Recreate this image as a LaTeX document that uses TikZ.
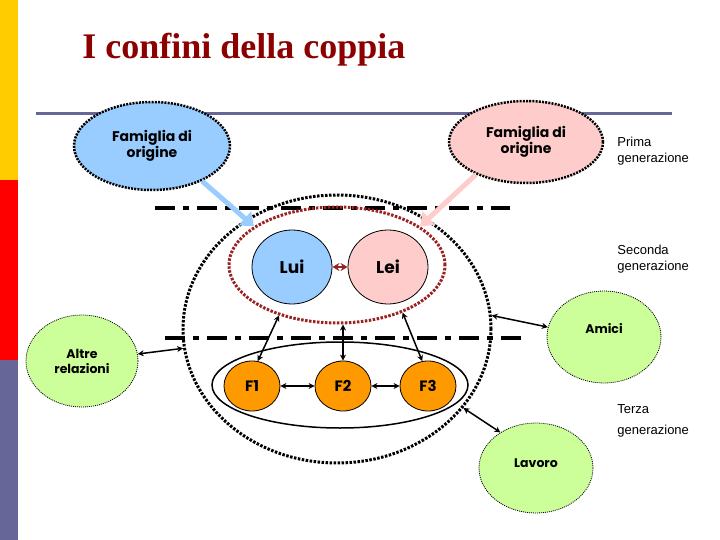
\documentclass[tikz,border=0pt]{standalone}
\usepackage{fontspec}
\setmainfont{Liberation Serif}
\newfontfamily\comicfont{Poppins}
\newfontfamily\genfont{Liberation Sans}
\usetikzlibrary{arrows.meta,shapes.geometric}
\definecolor{titlered}{RGB}{140,0,0}
\definecolor{barblue}{RGB}{102,102,153}
\definecolor{baryellow}{RGB}{255,204,0}
\definecolor{luiblue}{RGB}{153,204,255}
\definecolor{leipink}{RGB}{255,204,204}
\definecolor{couplered}{RGB}{153,34,34}
\definecolor{friendgreen}{RGB}{204,255,153}
\definecolor{kidorange}{RGB}{255,153,0}

\begin{document}
\begin{tikzpicture}[x=1pt,y=-1pt,line width=.8pt,
  famnode/.style={ellipse,draw,line width=2.5pt,dash pattern=on 2pt off 1.2pt,inner sep=0pt,align=center,font=\comicfont\bfseries\fontsize{14}{16}\selectfont},
  partner/.style={ellipse,draw,line width=.8pt,inner sep=0pt,minimum width=80pt,minimum height=74pt,font=\comicfont\bfseries\fontsize{17}{19}\selectfont},
  kid/.style={ellipse,draw,line width=.8pt,fill=kidorange,inner sep=0pt,minimum width=56pt,minimum height=50pt,font=\comicfont\bfseries\fontsize{15}{17}\selectfont},
  outside/.style={ellipse,draw,fill=friendgreen,line width=.8pt,dash pattern=on 1pt off 1pt,inner sep=0pt,align=center,font=\comicfont\bfseries\fontsize{12.5}{15}\selectfont},
  gen/.style={anchor=west,inner sep=0pt,align=left,font=\genfont\fontsize{13}{16}\selectfont},
  limit/.style={line width=4pt,dash pattern=on 20pt off 8pt on 6pt off 8pt},
  link/.style={line width=1.5pt,{Stealth[length=6pt,width=6pt]}-{Stealth[length=6pt,width=6pt]}},
  feed/.style={line width=5pt,-{Triangle[length=12pt,width=18pt]}}]
\path[use as bounding box] (0,0) rectangle (720,540);
% side bar
\fill[baryellow] (0,0) rectangle (18,180);
\fill[red] (0,180) rectangle (18,360);
\fill[barblue] (0,360) rectangle (18,540);
% title
\node[anchor=west,inner sep=0pt,text=titlered,font=\bfseries\fontsize{36}{40}\selectfont] (title) at (82,50) {I confini della coppia};
\draw[barblue,line width=3pt] (36,114) -- (672,114);
% generation limits
\draw[limit] (155,208) -- (510,208);
\draw[limit] (165,338) -- (522,338);
% boundaries
\node[ellipse,draw,line width=3pt,dash pattern=on 2.5pt off 1.5pt,inner sep=0pt,minimum width=308pt,minimum height=268pt] (bound) at (337,329) {};
\node[ellipse,draw,couplered,line width=3pt,dash pattern=on 2.5pt off 1.5pt,inner sep=0pt,minimum width=216pt,minimum height=116pt] (couple) at (337,265) {};
\node[ellipse,draw,line width=1.5pt,inner sep=0pt,minimum width=256pt,minimum height=86pt] (kids) at (340,385) {};
% families of origin
\node[famnode,fill=luiblue,minimum width=156pt,minimum height=88pt] (famL) at (152,146) {Famiglia di\\origine};
\node[famnode,fill=leipink,minimum width=154pt,minimum height=82pt] (famR) at (526,142) {Famiglia di\\origine};
% couple
\node[partner,fill=luiblue] (lui) at (292,267) {Lui};
\node[partner,fill=leipink] (lei) at (388,267) {Lei};
% children
\node[kid] (f1) at (252,386) {F1};
\node[kid] (f2) at (343,386) {F2};
\node[kid] (f3) at (428,386) {F3};
% other relations
\node[outside,minimum width=112pt,minimum height=92pt] (altre) at (82,361) {Altre\\relazioni};
\node[outside,minimum width=114pt,minimum height=92pt] (amici) at (604,337) {\raisebox{18pt}{Amici}};
\node[outside,minimum width=114pt,minimum height=90pt] (lavoro) at (536,468) {\raisebox{10pt}{Lavoro}};
% generations
\node[gen] (gen1) at (617,151) {Prima\\generazione};
\node[gen] (gen2) at (617,259) {Seconda\\generazione};
\node[gen,font=\genfont\fontsize{13}{21}\selectfont] (gen3) at (617,421) {Terza\\generazione};
% connectors
\draw[feed,luiblue] (famL.-35) -- (couple.155);
\draw[feed,leipink] (famR.213) -- (couple.25);
\draw[link,couplered,line width=2.5pt,{Stealth[length=7pt,width=8pt]}-{Stealth[length=7pt,width=8pt]}] (lui) -- (lei);
\draw[link] (f1) -- (f2);
\draw[link] (f2) -- (f3);
\draw[link] (f1.77) -- (couple.221);
\draw[link] (f2.north) -- (f2.north |- couple.south);
\draw[link] (f3.103) -- (couple.324);
\draw[link] (altre) -- (bound);
\draw[link] (bound.5) -- (amici.170);
\draw[link] (bound.-32) -- (lavoro.135);
\end{tikzpicture}
\end{document}
